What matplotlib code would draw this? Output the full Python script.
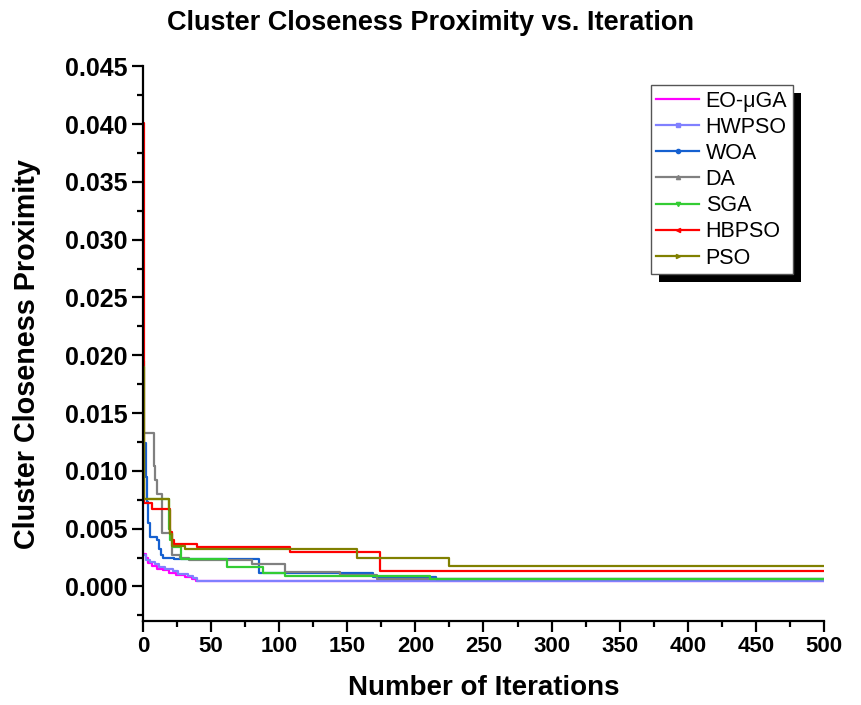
import matplotlib
matplotlib.use("Agg")
import matplotlib.pyplot as plt
from matplotlib.lines import Line2D
from matplotlib.patches import Rectangle
from matplotlib.transforms import IdentityTransform
from matplotlib.ticker import MultipleLocator, FormatStrFormatter

plt.rcParams['font.family'] = ['Liberation Sans', 'DejaVu Sans']

# step data: iteration where the value changes, and the new value
names = ['EO-μGA', 'HWPSO', 'WOA', 'DA', 'SGA', 'HBPSO', 'PSO']
colors = ['#ff00ff', '#8080ff', '#1560d0', '#808080', '#33cc33', '#ff0000', '#808000']
markers = [None, 's', 'o', '^', 'v', '<', '>']

eo_x = [0, 2, 4, 7, 10, 15, 19, 24, 31, 36, 39]
eo_y = [0.0028, 0.0025, 0.0020, 0.0018, 0.0015, 0.0014, 0.0012, 0.0010, 0.0008, 0.0006, 0.00045]
hw_x = [0, 2, 5, 9, 12, 16, 22, 26, 33, 37, 40]
hw_y = [0.0027, 0.0023, 0.0021, 0.0019, 0.0017, 0.0015, 0.0013, 0.0011, 0.0009, 0.0007, 0.00045]
woa_x = [0, 2, 3, 4, 5, 10, 12, 13, 15, 23, 85, 169, 215]
woa_y = [0.0124, 0.0095, 0.0073, 0.0055, 0.0043, 0.0040, 0.0032, 0.0027, 0.0025, 0.0024, 0.0012, 0.0008, 0.00067]
da_x = [0, 8, 9, 10, 14, 21, 27, 34, 80, 104, 145, 172]
da_y = [0.0133, 0.0104, 0.0092, 0.0080, 0.0046, 0.0027, 0.0025, 0.00225, 0.00197, 0.00124, 0.00095, 0.00067]
sga_x = [0, 1, 19, 20, 22, 28, 62, 88, 104, 211]
sga_y = [0.0195, 0.0076, 0.0050, 0.0040, 0.0034, 0.0024, 0.0017, 0.0012, 0.00087, 0.00067]
hb_x = [0, 1, 7, 20, 21, 23, 40, 108, 174]
hb_y = [0.0401, 0.0072, 0.0067, 0.0047, 0.0040, 0.0037, 0.0034, 0.0030, 0.00135]
pso_x = [0, 1, 19, 20, 21, 31, 157, 225, 460]
pso_y = [0.0190, 0.0076, 0.0066, 0.0045, 0.0035, 0.0032, 0.0025, 0.00179, 0.00176]

series_x = [eo_x, hw_x, woa_x, da_x, sga_x, hb_x, pso_x]
series_y = [eo_y, hw_y, woa_y, da_y, sga_y, hb_y, pso_y]

fig = plt.figure(figsize=(8.61, 7.05), dpi=100)
ax = fig.add_axes([0.166, 0.119, 0.791, 0.787])
ax.set_facecolor('none')

handles = []
for i in range(len(names)):
    x = series_x[i] + [500]
    y = series_y[i] + [series_y[i][-1]]
    ax.step(x, y, where='post', color=colors[i], lw=1.6)
    handles.append(Line2D([], [], color=colors[i], lw=1.6, marker=markers[i], markersize=3))

ax.set_xlim(0, 500)
ax.set_ylim(-0.003, 0.045)
ax.xaxis.set_major_locator(MultipleLocator(50))
ax.xaxis.set_minor_locator(MultipleLocator(25))
ax.yaxis.set_major_locator(MultipleLocator(0.005))
ax.yaxis.set_minor_locator(MultipleLocator(0.0025))
ax.yaxis.set_major_formatter(FormatStrFormatter('%.3f'))
ax.spines['top'].set_visible(False)
ax.spines['right'].set_visible(False)
for s in ['left', 'bottom']:
    ax.spines[s].set_linewidth(1.6)
ax.tick_params(which='major', direction='out', length=8, width=1.6, pad=3)
ax.tick_params(which='minor', direction='out', length=4, width=1.6)
ax.tick_params(axis='x', labelsize=16)
ax.tick_params(axis='y', labelsize=18)
for lab in ax.get_xticklabels() + ax.get_yticklabels():
    lab.set_fontweight('bold')

ax.set_xlabel('Number of Iterations', fontsize=20, fontweight='bold', labelpad=13)
ax.set_ylabel('Cluster Closeness Proximity', fontsize=20.7, fontweight='bold', labelpad=17)
ax.yaxis.label.set_y(0.481)
fig.suptitle('Cluster Closeness Proximity vs. Iteration', fontsize=19.5, fontweight='bold',
             x=0.5, y=1 - 23 / 705, va='center')

leg = ax.legend(handles, names, loc='upper right', bbox_to_anchor=(0.954, 0.966),
                fontsize=15.5, frameon=True, fancybox=False, framealpha=1,
                edgecolor='#555555', handlelength=2.0, handletextpad=0.3,
                labelspacing=0.24, borderpad=0.25, borderaxespad=0)
leg.get_frame().set_linewidth(1.0)

fig.canvas.draw()
bb = leg.get_window_extent()
shadow = Rectangle((bb.x0 + 8, bb.y0 - 8), bb.width, bb.height, transform=IdentityTransform(),
                   facecolor='black', edgecolor='none', zorder=4, clip_on=False)
ax.add_artist(shadow)
leg.set_zorder(5)

fig.savefig('out.png', dpi=100)
